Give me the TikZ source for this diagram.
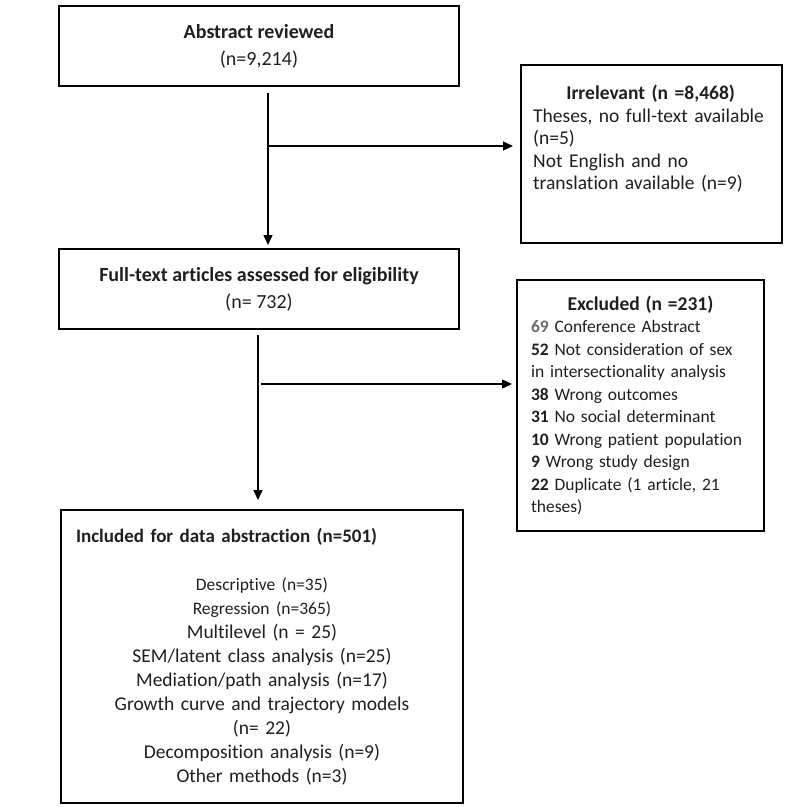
\documentclass[tikz,border=0pt]{standalone}
\usepackage{fontspec}
\setmainfont{Carlito}[Ligatures=NoCommon]
\usetikzlibrary{arrows.meta}
\definecolor{numgray}{gray}{0.42}
\begin{document}
\begin{tikzpicture}[x=1pt,y=-1pt,text=black!88,font=\fontsize{19.5}{22.5}\selectfont,
    arr/.style={-{Triangle[length=10pt,width=9pt]},line width=1.4pt}]
    \tikzstyle{box}=[draw,line width=2pt,inner sep=0pt,anchor=north west]
    \useasboundingbox (0,0) rectangle (790,807);

    \node[box,minimum width=400,minimum height=80,align=center,font=\fontsize{20}{27}\selectfont] (abstr) at (58,5) {\textbf{Abstract reviewed}\\(n=9,214)};
    \node[box,minimum width=261,minimum height=178] (irr) at (520,64) {};
    \node[anchor=north west,inner sep=0pt,text width=240,align=left] (irrtext) at (533,85) {\makebox[235pt]{\textbf{Irrelevant (n =8,468)}}\\
        Theses, no full-text available\\(n=5)\\Not English and no\\translation available (n=9)};
    \node[box,minimum width=400,minimum height=80,align=center,font=\fontsize{20}{27}\selectfont] (fulltext) at (58,248) {\textbf{Full-text articles assessed for eligibility}\\(n= 732)};
    \node[box,minimum width=247,minimum height=251,inner xsep=14pt,text width=219,align=left,font=\fontsize{17.5}{22.5}\selectfont] (excl) at (516,279) {\makebox[219pt]{\fontsize{19.5}{22.5}\selectfont\textbf{Excluded (n =231)}}\\
        \textcolor{numgray}{\textbf{69}} Conference Abstract\\
        \textbf{52} Not consideration of sex\\
        in intersectionality analysis\\
        \textbf{38} Wrong outcomes\\
        \textbf{31} No social determinant\\
        \textbf{10} Wrong patient population\\
        \textbf{9} Wrong study design\\
        \textbf{22} Duplicate (1 article, 21\\
        theses)};
    \node[box,minimum width=402,minimum height=293,text width=372,align=center,font=\fontsize{19.5}{24}\selectfont] (incl) at (60,509) {\makebox[372pt][l]{\fontsize{19}{24}\selectfont\textbf{Included for data abstraction (n=501)}}\\[24pt]
        {\fontsize{17.5}{24}\selectfont Descriptive (n=35)}\\
        {\fontsize{17.5}{24}\selectfont Regression (n=365)}\\
        Multilevel (n = 25)\\
        SEM/latent class analysis (n=25)\\
        Mediation/path analysis (n=17)\\
        Growth curve and trajectory models\\
        (n= 22)\\
        Decomposition analysis (n=9)\\
        Other methods (n=3)};

    \coordinate (j1) at (268,146);
    \coordinate (j2) at (258,384);
    \draw[arr,shorten <=6pt,shorten >=3pt] (abstr.south -| j1) -- (fulltext.north -| j1);
    \draw[arr,shorten >=7pt] (j1) -- (j1 -| irr.west);
    \draw[arr,shorten <=5pt,shorten >=9pt] (fulltext.south -| j2) -- (incl.north -| j2);
    \draw[arr,shorten <=3pt,shorten >=4pt] (j2) -- (j2 -| excl.west);
\end{tikzpicture}
\end{document}
